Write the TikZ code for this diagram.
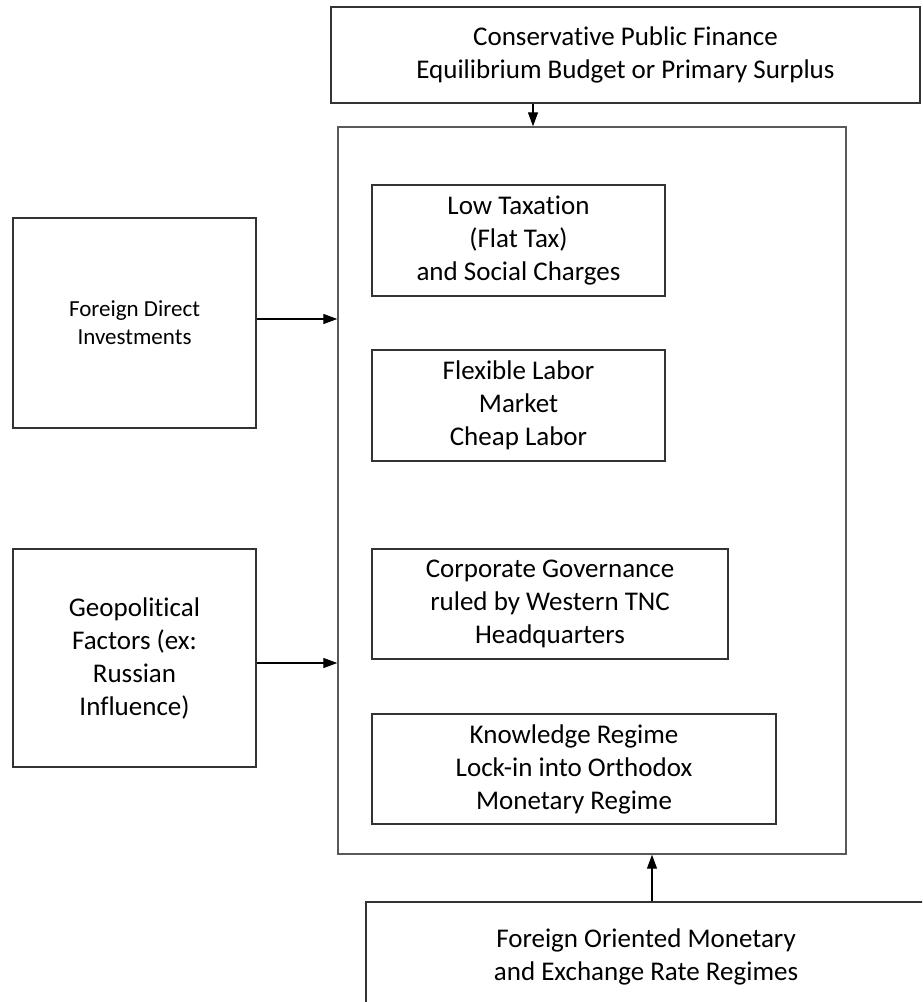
\documentclass[tikz,border=0pt]{standalone}
\usepackage{fontspec}
\setmainfont{Carlito}[Ligatures=NoCommon]
\usetikzlibrary{arrows.meta,positioning}

\tikzset{
  box/.style={draw=black!80, line width=0.6pt, align=center, inner sep=0pt,
    font=\fontsize{13.5}{16.5}\selectfont},
  arr/.style={-{Triangle[length=7pt,width=5pt]}, line width=0.6pt, black}
}

\begin{document}
\begin{tikzpicture}[x=0.5pt, y=-0.5pt]
\clip (0,0) rectangle (922,1002);
\fill[white] (0,0) rectangle (922,1002);

% === TOP: public finance ===
\node[box, minimum width=294.5pt, minimum height=48pt] (finance) at (625.5,55)
  {Conservative Public Finance\\Equilibrium Budget or Primary Surplus};

% === CENTER: frame with the four regimes ===
\node[draw=black!65, line width=0.7pt, minimum width=254pt, minimum height=363.5pt] (frame) at (592,490.5) {};

\node[box, minimum width=146.5pt, minimum height=55.5pt] (taxation) at (518.5,240.5)
  {Low Taxation\\(Flat Tax)\\and Social Charges};
\node[box, minimum width=146.5pt, minimum height=55.5pt] (labor) at (518.5,405.5)
  {Flexible Labor\\Market\\Cheap Labor};
\node[box, minimum width=178pt, minimum height=55pt] (governance) at (550,604)
  {Corporate Governance\\ruled by Western TNC\\Headquarters};
\node[box, minimum width=202pt, minimum height=55pt] (knowledge) at (574,769)
  {Knowledge Regime\\Lock-in into Orthodox\\Monetary Regime};

% === LEFT: outside factors ===
\node[box, minimum width=121.5pt, minimum height=105pt, font=\fontsize{11.5}{14}\selectfont] (fdi) at (134.5,323)
  {Foreign Direct\\Investments};
\node[box, minimum width=121.5pt, minimum height=109pt] (geo) at (134.5,658)
  {Geopolitical\\Factors (ex:\\Russian\\Influence)};

% === BOTTOM: monetary regimes (cut by the page) ===
\node[box, minimum width=280pt, minimum height=55pt] (monetary) at (646,957)
  {Foreign Oriented Monetary\\and Exchange Rate Regimes};

% arrows
\draw[arr] ([xshift=-46.25pt]finance.south) -- ([xshift=-46.25pt]finance.south |- frame.north);
\draw[arr] ([yshift=2pt]fdi.east) -- ([yshift=2pt]fdi.east -| frame.west);
\draw[arr] ([yshift=-2.5pt]geo.east) -- ([yshift=-2.5pt]geo.east -| frame.west);
\draw[arr] ([xshift=3pt]monetary.north) -- ([xshift=3pt]monetary.north |- frame.south);

\end{tikzpicture}
\end{document}
